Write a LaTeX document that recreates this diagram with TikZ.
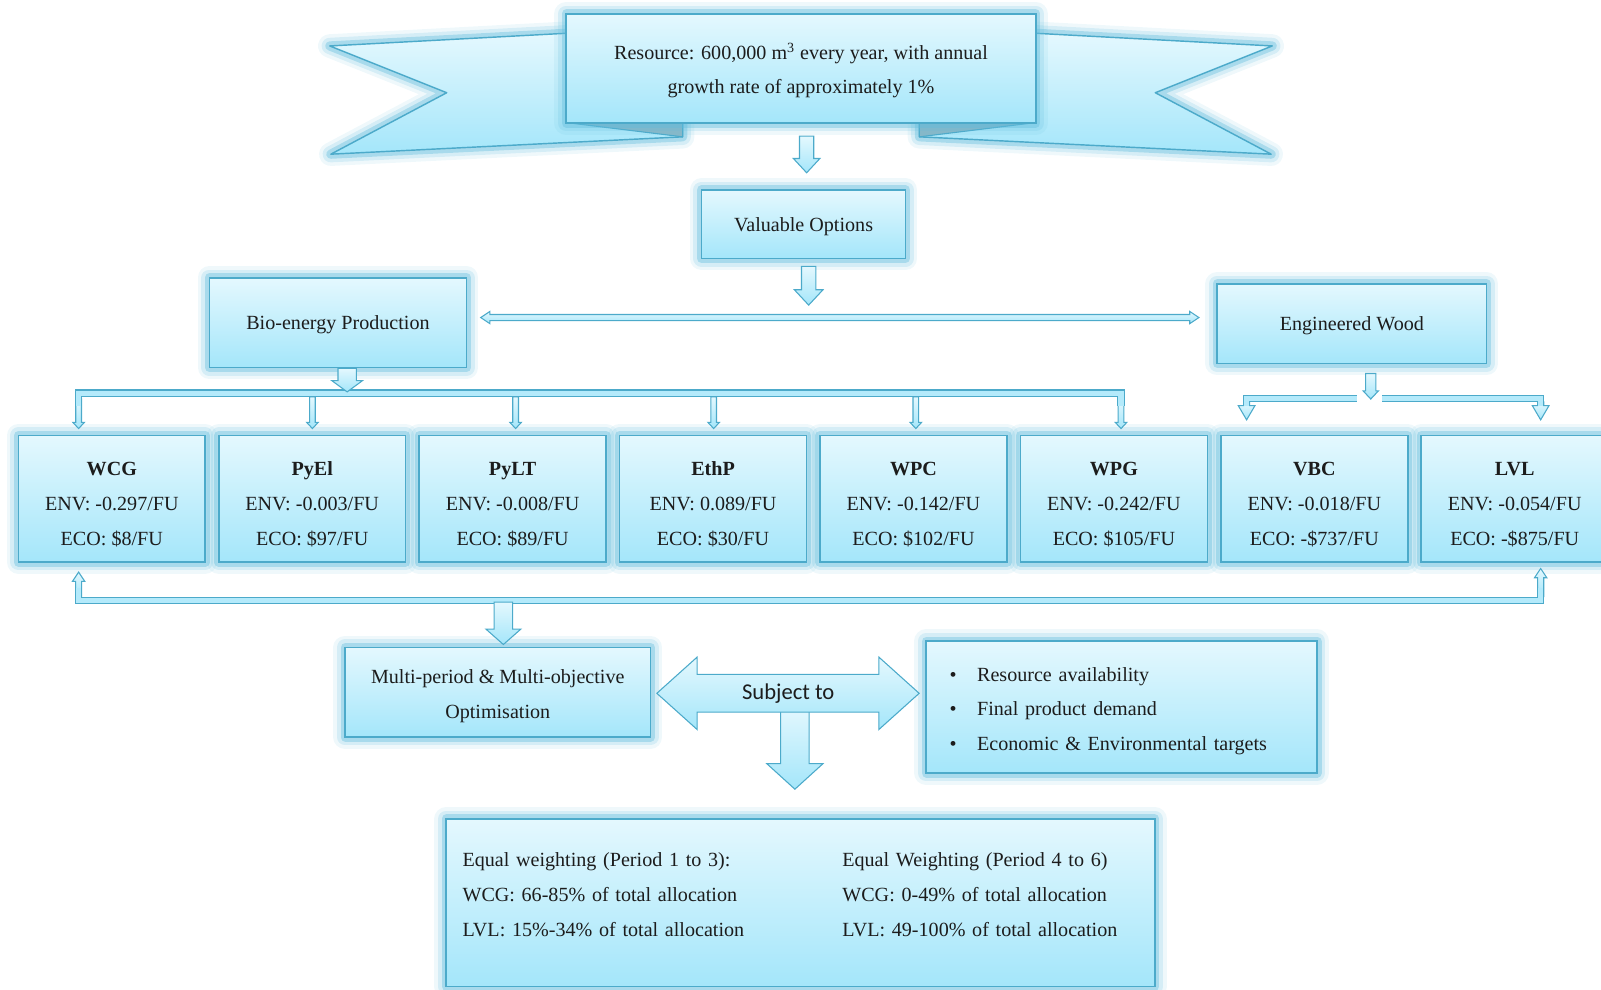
\documentclass[tikz,border=0pt]{standalone}
\usepackage{fontspec}
\setmainfont{Liberation Serif}
\newfontfamily\calibri{Carlito}
\usetikzlibrary{positioning,calc}
\definecolor{ink}{RGB}{28,28,28}
\definecolor{rim}{RGB}{76,170,202}
\definecolor{haze}{RGB}{96,188,220}
\definecolor{skyA}{RGB}{228,248,254}
\definecolor{skyB}{RGB}{164,230,250}
\definecolor{crease}{RGB}{138,184,199}
\newcommand\bodyfont{\fontsize{11.2}{19.35}\selectfont}
\newcommand\tallstrut{\rule{0pt}{4.6mm}}
\tikzset{
  halo/.style={preaction={draw=haze,line width=4.6mm,opacity=.10,line join=round},
    preaction={draw=haze,line width=3.2mm,opacity=.18,line join=round},
    preaction={draw=haze,line width=1.8mm,opacity=.38,line join=round}},
  panel/.style={draw=rim,line width=.9pt,top color=skyA,bottom color=skyB,halo,
    text=ink,align=center,inner sep=0pt,text depth=0pt,font=\bodyfont},
  prod/.style={panel,minimum width=36.6mm,minimum height=24.8mm},
  blk/.style={draw=rim,line width=.6pt,top color=skyA,bottom color=skyB,line join=miter},
  fat/.style n args={3}{blk,to path={let \p1=(\tikztostart),\p2=(\tikztotarget),
      \p3=($(\p2)!#3!(\p1)$) in
      ($(\p1)!#1!90:(\p2)$) -- ($(\p3)!#1!90:(\p2)$) -- ($(\p3)!#2!90:(\p2)$)
      -- (\p2) -- ($(\p3)!#2!-90:(\p2)$) -- ($(\p3)!#1!-90:(\p2)$)
      -- ($(\p1)!#1!-90:(\p2)$) -- cycle}},
  fatboth/.style n args={3}{blk,to path={let \p1=(\tikztostart),\p2=(\tikztotarget),
      \p3=($(\p2)!#3!(\p1)$),\p4=($(\p1)!#3!(\p2)$) in
      (\p1) -- ($(\p4)!#2!90:(\p2)$) -- ($(\p4)!#1!90:(\p2)$) -- ($(\p3)!#1!90:(\p2)$)
      -- ($(\p3)!#2!90:(\p2)$) -- (\p2) -- ($(\p3)!#2!-90:(\p2)$) -- ($(\p3)!#1!-90:(\p2)$)
      -- ($(\p4)!#1!-90:(\p2)$) -- ($(\p4)!#2!-90:(\p2)$) -- cycle}},
  pipe/.style={draw=rim,line width=.2mm,double=skyB!75!skyA,double distance=1.1mm},
}

\begin{document}
\begin{tikzpicture}[x=0.2mm,y=-0.2mm,node distance=2.34mm]
\useasboundingbox (0,0) rectangle (1568,969);
\draw[halo,draw=rim,line width=.8pt,top color=skyA,bottom color=skyB,line join=round]
  (554.4,32.6) -- (323,45) -- (437.5,90.8) -- (324,151) -- (668.6,134) -- (668.6,117.5) -- cycle;
\draw[halo,draw=rim,line width=.8pt,top color=skyA,bottom color=skyB,line join=round]
  (1014.6,32.6) -- (1246,45) -- (1131.5,90.8) -- (1245,151) -- (900.4,134) -- (900.4,117.5) -- cycle;
\draw[draw=rim,line width=.6pt,fill=crease] (554.4,120) -- (668.6,117.5) -- (668.6,134) -- cycle;
\draw[draw=rim,line width=.6pt,fill=crease] (1014.6,120) -- (900.4,117.5) -- (900.4,134) -- cycle;
\node[panel,minimum width=92mm,minimum height=21.4mm] (res) at (784.5,67)
  {Resource: 600,000 m\textsuperscript{3} every year, with annual\\growth rate of approximately 1\%};
\node[panel,minimum width=40mm,minimum height=13.4mm] (opt) at (787,219.5) {Valuable Options};
\node[panel,minimum width=50.4mm,minimum height=17.6mm] (bio) at (331,316) {Bio-energy Production};
\node[panel,minimum width=52.8mm,minimum height=15.6mm] (ew) at (1324,317) {Engineered Wood};
\node[prod] (wcg) at (109.5,488.5) {\tallstrut\textbf{WCG}\\ENV: -0.297/FU\\ECO: \$8/FU};
\node[prod,right=of wcg] (pyel) {\tallstrut\textbf{PyEl}\\ENV: -0.003/FU\\ECO: \$97/FU};
\node[prod,right=of pyel] (pylt) {\tallstrut\textbf{PyLT}\\ENV: -0.008/FU\\ECO: \$89/FU};
\node[prod,right=of pylt] (ethp) {\tallstrut\textbf{EthP}\\ENV: 0.089/FU\\ECO: \$30/FU};
\node[prod,right=of ethp] (wpc) {\tallstrut\textbf{WPC}\\ENV: -0.142/FU\\ECO: \$102/FU};
\node[prod,right=of wpc] (wpg) {\tallstrut\textbf{WPG}\\ENV: -0.242/FU\\ECO: \$105/FU};
\node[prod,right=of wpg] (vbc) {\tallstrut\textbf{VBC}\\ENV: -0.018/FU\\ECO: -\$737/FU};
\node[prod,right=of vbc] (lvl) {\tallstrut\textbf{LVL}\\ENV: -0.054/FU\\ECO: -\$875/FU};
\node[panel,minimum width=59.8mm,minimum height=17.6mm] (optim) at (487.5,678)
  {\rule{0pt}{3.4mm}Multi-period \& Multi-objective\\Optimisation};
\node[panel,align=left,text width=67.4mm,inner xsep=4.6mm,minimum height=25.8mm,text depth={}] (cons) at (1098.5,692.5)
  {\rule{0pt}{4.3mm}\makebox[5.4mm][l]{\textbullet}Resource availability\\
   \makebox[5.4mm][l]{\textbullet}Final product demand\\
   \makebox[5.4mm][l]{\textbullet}Economic \& Environmental targets};
\node[panel,align=left,text width=132.4mm,inner xsep=3.2mm,minimum height=32.8mm,text depth={}] (result) at (784,884)
  {\begin{tabular}{@{}p{74.4mm}@{}l@{}}
   Equal weighting (Period 1 to 3): & Equal Weighting (Period 4 to 6)\\
   WCG: 66-85\% of total allocation & WCG: 0-49\% of total allocation\\
   LVL: 15\%-34\% of total allocation & LVL: 49-100\% of total allocation\\[3.2mm]
   \end{tabular}};
\draw[fat={1.4mm}{2.6mm}{2.8mm}] ($(res.south)+(5.5,12)$) to ($(opt.north)+(3,-16)$);
\draw[fat={1.4mm}{2.8mm}{3mm}] ($(opt.south)+(5,7)$) to ($(opt.south)+(5,45)$);
\draw[fatboth={.6mm}{1.2mm}{1.8mm}] ($(bio.east)+(13,-5)$) to ($(ew.west)+(-17,-6)$);
\draw[fat={.56mm}{1.12mm}{1.2mm}] ($(wcg.north)+(-32.5,-35)$) to ($(wcg.north)+(-32.5,-6)$);
\draw[fat={.56mm}{1.12mm}{1.2mm}] ($(pyel.north)+(.2,-37)$) to ($(pyel.north)+(.2,-6)$);
\draw[fat={.56mm}{1.12mm}{1.2mm}] ($(pylt.north)+(2.9,-37)$) to ($(pylt.north)+(2.9,-6)$);
\draw[fat={.56mm}{1.12mm}{1.2mm}] ($(ethp.north)+(.6,-37)$) to ($(ethp.north)+(.6,-6)$);
\draw[fat={.56mm}{1.12mm}{1.2mm}] ($(wpc.north)+(2.3,-37)$) to ($(wpc.north)+(2.3,-6)$);
\draw[fat={.56mm}{1.12mm}{1.2mm}] ($(wpg.north)+(7,-35)$) to ($(wpg.north)+(7,-6)$);
\draw[pipe] ($(wcg.north)+(-32.5,-28.5)$) |- ($(wpg.north)+(7,-40.5)$) -- ($(wpg.north)+(7,-28.5)$);
\draw[fat={1.8mm}{3mm}{2.2mm}] ($(bio.south)+(9,0)$) to ($(bio.south)+(9,23)$);
\draw[fat={.6mm}{1.64mm}{2.8mm}] ($(vbc.north)+(-66.3,-32)$) to ($(vbc.north)+(-66.3,-14.5)$);
\draw[fat={.6mm}{1.64mm}{2.8mm}] ($(lvl.north)+(25.4,-32)$) to ($(lvl.north)+(25.4,-14.5)$);
\draw[pipe,double distance=1mm] ($(ew.south)+(4.8,33.5)$) -| ($(vbc.north)+(-66.3,-28)$);
\draw[pipe,double distance=1mm] ($(ew.south)+(29.6,33.5)$) -| ($(lvl.north)+(25.4,-28)$);
\draw[fat={1mm}{1.5mm}{1.6mm}] ($(ew.south)+(18.5,9)$) to ($(ew.south)+(18.5,34)$);
\draw[fat={.6mm}{1.2mm}{1.8mm}] ($(wcg.south)+(-32.5,33)$) to ($(wcg.south)+(-32.5,9)$);
\draw[fat={.6mm}{1.2mm}{1.8mm}] ($(lvl.south)+(25.4,33)$) to ($(lvl.south)+(25.4,5.5)$);
\draw[pipe,double distance=1mm] ($(wcg.south)+(-32.5,25)$) |- ($(lvl.south)+(25.4,37)$) -- ($(lvl.south)+(25.4,25)$);
\draw[fat={1.8mm}{3.4mm}{3mm}] ($(optim.north)+(5.5,-43.5)$) to ($(optim.north)+(5.5,-2)$);
\draw[fat={2.8mm}{5.5mm}{5mm}] ($(result.north)+(-5.5,-110)$) to ($(result.north)+(-5.5,-28.3)$);
\draw[fatboth={3.7mm}{7.1mm}{7.9mm}] ($(optim.east)+(5.5,1)$) to ($(optim.east -| cons.west)+(-6,1)$);
\node[font=\calibri\fontsize{12.6}{14}\selectfont,text=ink] (subj)
  at ($(optim.east)!.5!(optim.east -| cons.west)+(0,1)$) {Subject to};
\end{tikzpicture}
\end{document}
